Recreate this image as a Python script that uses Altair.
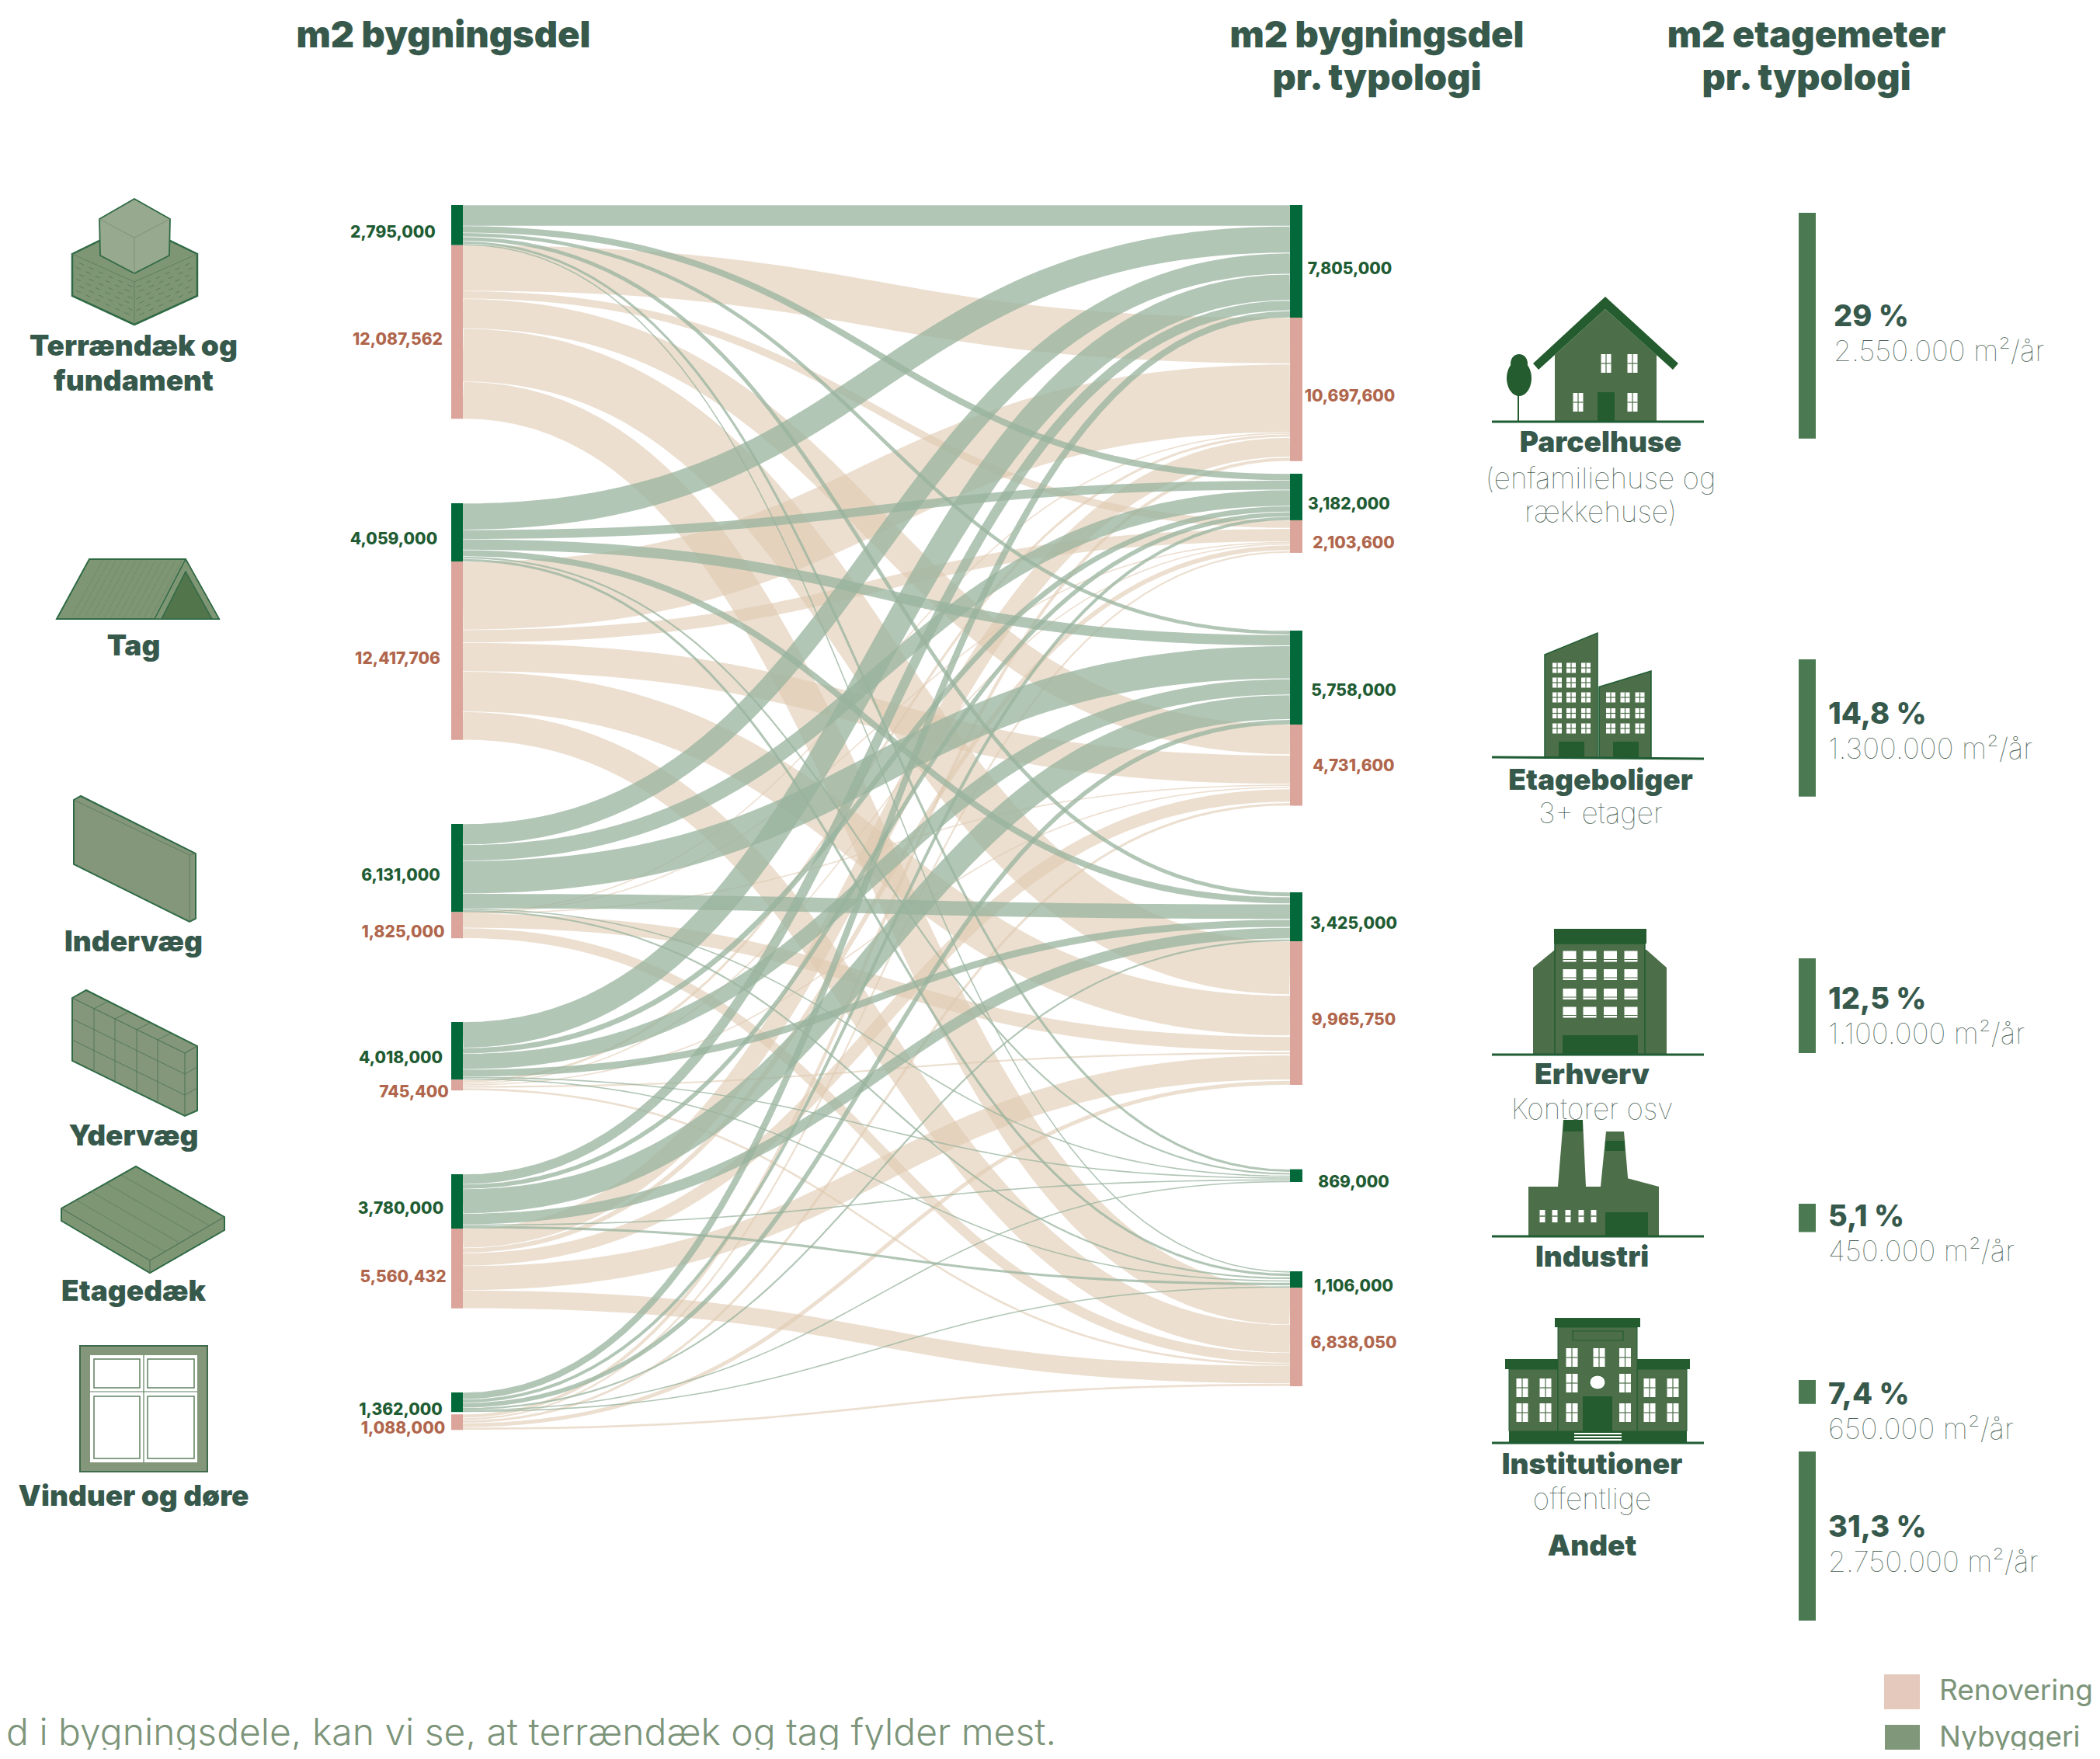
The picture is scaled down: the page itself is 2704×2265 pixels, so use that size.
import math
import altair as alt
import pandas as pd

# ---------------------------------------------------------------- data
SOURCES = ["Terrændæk og fundament", "Tag", "Indervæg", "Ydervæg", "Etagedæk", "Vinduer og døre"]
TARGETS = ["Parcelhuse", "Rækkehuse", "Etageboliger", "Erhverv", "Industri", "Institutioner"]

# flows, million m2 (rows = sources, columns = targets)
NEW_FLOWS = [
    [1.46, 0.47, 0.28, 0.295, 0.20, 0.09],
    [1.85, 0.65, 0.75, 0.46, 0.15, 0.20],
    [1.45, 1.12, 2.28, 1.04, 0.09, 0.15],
    [1.80, 0.40, 1.10, 0.52, 0.09, 0.11],
    [0.70, 0.33, 1.70, 0.77, 0.08, 0.20],
    [0.48, 0.25, 0.34, 0.15, 0.06, 0.09],
]
RENO_FLOWS = [
    [3.20, 0.55, 2.08, 3.70, 0.0, 2.60],
    [4.75, 0.90, 2.00, 2.80, 0.0, 1.97],
    [0.035, 0.035, 0.035, 1.00, 0.0, 0.72],
    [0.20, 0.10, 0.12, 0.15, 0.0, 0.175],
    [1.35, 0.35, 0.90, 1.70, 0.0, 1.26],
    [0.25, 0.15, 0.20, 0.30, 0.0, 0.18],
]
LEFT_NEW = [2.795, 4.059, 6.131, 4.018, 3.780, 1.362]
LEFT_RENO = [12.087562, 12.417706, 1.825, 0.7454, 5.560432, 1.088]
# node heights on the right as they are drawn, million m2
RIGHT_NEW = [7.84, 3.24, 6.54, 3.41, 0.886, 1.135]
RIGHT_RENO = [9.98, 2.27, 5.65, 10.0, 0.0, 6.86]

LEFT_NEW_LABELS = ["2,795,000", "4,059,000", "6,131,000", "4,018,000", "3,780,000", "1,362,000"]
LEFT_RENO_LABELS = ["12,087,562", "12,417,706", "1,825,000", "745,400", "5,560,432", "1,088,000"]
RIGHT_NEW_LABELS = ["7,805,000", "3,182,000", "5,758,000", "3,425,000", "869,000", "1,106,000"]
RIGHT_RENO_LABELS = ["10,697,600", "2,103,600", "4,731,600", "9,965,750", "6,838,050"]

PERCENTS = ["29 %", "14,8 %", "12,5 %", "5,1 %", "7,4 %", "31,3 %"]
AREAS = ["2.550.000 m²/år", "1.300.000 m²/år", "1.100.000 m²/år", "450.000 m²/år", "650.000 m²/år", "2.750.000 m²/år"]
# bar lengths as drawn, million m2 on the bar scale
BAR_DRAWN = [2.55, 1.55, 1.07, 0.32, 0.27, 1.91]

# ---------------------------------------------------------------- layout
W, H = 2704, 2265
VIEW_W, VIEW_H = W - 16, H - 20   # the page adds its margin and a line gap below the chart
PX = 18.5
LX0, LX1 = 581, 596
RX0, RX1 = 1661, 1677
LEFT_TOPS = [264, 648, 1061, 1316, 1512, 1793]
LEFT_GAP = [0, 0, 0, 0, 0, 3]
RIGHT_TOPS = [264, 610, 812, 1149, 1505.6, 1637]
BAR_TOPS = [274, 849, 1234, 1550, 1777, 1869]
BAR_PX = 114
BAR_X0, BAR_X1 = 2316, 2338

C_NEW_NODE, C_RENO_NODE = "#03693a", "#dba59b"
C_NEW_LINK, C_RENO_LINK = "#98b39d", "#dfcab1"
C_LABEL = "#36594c"
C_NUM_G, C_NUM_R = "#1f5c33", "#b0664c"
C_LIGHT = "#4a5f55"
C_LEG = "#7c9479"
FONT = "Inter"
TXT_DY = 2


def ends(values, top, height):
    """stacks bands in a node; returns (centre, width) for each band."""
    total = sum(values) * PX
    k = min(1.0, height / total) if total else 1.0
    live = [v for v in values if v > 0]
    gap = max(0.0, height - total) / max(1, len(live) - 1) if len(live) > 1 else 0
    out, y = [], top
    for v in values:
        w = v * PX * k
        out.append((y + w / 2, w))
        y += w + (gap if v > 0 else 0)
    return out


def links(flows, left_tops, left_h, right_tops, right_h, kind):
    n_s, n_t = len(flows), len(flows[0])
    left = [ends(flows[s], left_tops[s], left_h[s]) for s in range(n_s)]
    right = [ends([flows[s][t] for s in range(n_s)], right_tops[t], right_h[t]) for t in range(n_t)]
    rows = []
    for s in range(n_s):
        for t in range(n_t):
            if flows[s][t] <= 0:
                continue
            y0, w0 = left[s][t]
            y1, w1 = right[t][s]
            w = max(1.6, (w0 + w1) / 2 - 0.6)
            xa, xb = LX1, RX0
            xm = (xa + xb) / 2
            for i in range(61):
                u = i / 60
                a, b, c, d = (1 - u) ** 3, 3 * u * (1 - u) ** 2, 3 * u * u * (1 - u), u ** 3
                rows.append(dict(id=f"{kind}{s}-{t}", x=a * xa + b * xm + c * xm + d * xb,
                                 y=a * y0 + b * y0 + c * y1 + d * y1, i=i, w=w))
    return pd.DataFrame(rows)


L_NEW_H = [v * PX for v in LEFT_NEW]
L_RENO_H = [v * PX for v in LEFT_RENO]
R_NEW_H = [v * PX for v in RIGHT_NEW]
R_RENO_H = [v * PX for v in RIGHT_RENO]
L_RENO_TOPS = [t + h + g for t, h, g in zip(LEFT_TOPS, L_NEW_H, LEFT_GAP)]
R_RENO_TOPS = [t + h for t, h in zip(RIGHT_TOPS, R_NEW_H)]

df_reno = links(RENO_FLOWS, L_RENO_TOPS, L_RENO_H, R_RENO_TOPS, R_RENO_H, "r")
df_new = links(NEW_FLOWS, LEFT_TOPS, L_NEW_H, RIGHT_TOPS, R_NEW_H, "n")

nodes = []
for t, h, rt, rh in zip(LEFT_TOPS, L_NEW_H, L_RENO_TOPS, L_RENO_H):
    nodes.append(dict(x=LX0, x2=LX1, y=t, y2=t + h, c=C_NEW_NODE))
    nodes.append(dict(x=LX0, x2=LX1, y=rt, y2=rt + rh, c=C_RENO_NODE))
for t, h, rt, rh in zip(RIGHT_TOPS, R_NEW_H, R_RENO_TOPS, R_RENO_H):
    nodes.append(dict(x=RX0, x2=RX1, y=t, y2=t + h, c=C_NEW_NODE))
    if rh > 0:
        nodes.append(dict(x=RX0, x2=RX1, y=rt, y2=rt + rh, c=C_RENO_NODE))
for t, d in zip(BAR_TOPS, BAR_DRAWN):
    nodes.append(dict(x=BAR_X0, x2=BAR_X1, y=t, y2=t + d * BAR_PX, c="#4b7a52"))
nodes.append(dict(x=2426, x2=2472, y=2156, y2=2201, c="#e5c9bc"))
nodes.append(dict(x=2427, x2=2472, y=2221, y2=2265, c="#81977a"))
df_nodes = pd.DataFrame(nodes)

# ---------------------------------------------------------------- text
texts = []


def T(text, x, y, size, weight, color, align="center"):
    texts.append(dict(text=text, x=x, y=y + TXT_DY, size=size, weight=weight, color=color, align=align))


for txt, x, y in [("m2 bygningsdel", 571, 45), ("m2 bygningsdel", 1773, 45), ("pr. typologi", 1773, 100),
                  ("m2 etagemeter", 2326, 45), ("pr. typologi", 2326, 100)]:
    T(txt, x, y, 47, 900, C_LABEL)
for txt, y in [("Terrændæk og", 445), ("fundament", 490), ("Tag", 831), ("Indervæg", 1212),
               ("Ydervæg", 1462), ("Etagedæk", 1662), ("Vinduer og døre", 1926)]:
    T(txt, 172, y, 37, 900, C_LABEL)

for txt, x, y in zip(LEFT_NEW_LABELS, [506, 507, 516, 516, 516, 516], [298, 693, 1126, 1361, 1555, 1814]):
    T(txt, x, y, 21, 800, C_NUM_G)
for txt, x, y in zip(LEFT_RENO_LABELS, [512, 512, 519, 533, 519, 519], [436, 847, 1198.5, 1405, 1643, 1838]):
    T(txt, x, y, 21, 800, C_NUM_R)
for txt, x, y in zip(RIGHT_NEW_LABELS, [1738, 1737, 1743, 1743, 1743, 1743], [345, 648, 888, 1188, 1521, 1655]):
    T(txt, x, y, 21, 800, C_NUM_G)
for txt, x, y in zip(RIGHT_RENO_LABELS, [1738, 1743, 1743, 1743, 1743], [509, 698, 985, 1312, 1728]):
    T(txt, x, y, 21, 800, C_NUM_R)

for txt, x, y in [("Parcelhuse", 2061, 569), ("Etageboliger", 2061, 1004), ("Erhverv", 2050, 1383),
                  ("Industri", 2050, 1618), ("Institutioner", 2050, 1885), ("Andet", 2050, 1990)]:
    T(txt, x, y, 37, 900, C_LABEL)
for txt, x, y in [("(enfamiliehuse og", 2061, 616), ("rækkehuse)", 2061, 659), ("3+ etager", 2061, 1047),
                  ("Kontorer osv", 2050, 1428), ("offentlige", 2050, 1930)]:
    T(txt, x, y, 37, 100, C_LIGHT)
VAL_X = [2361, 2354, 2354, 2354, 2354, 2354]
PCT_Y = [407, 919, 1286, 1566, 1795, 1966]
for txt, x, y in zip(PERCENTS, VAL_X, PCT_Y):
    T(txt, x, y, 38, 800, C_LABEL, "left")
for txt, x, y in zip(AREAS, VAL_X, PCT_Y):
    T(txt, x, y + 45, 37, 100, C_LIGHT, "left")
T("Renovering", 2497, 2176, 37, 400, C_LEG, "left")
T("Nybyggeri", 2497, 2236, 37, 400, C_LEG, "left")
T("d i bygningsdele, kan vi se, at terrændæk og tag fylder mest.", 8, 2231, 48, 300, C_LEG, "left")
df_text = pd.DataFrame(texts)

# ---------------------------------------------------------------- icons (custom symbol paths)
S = 200.0
pieces = []
G_FILL, G_EDGE, G_LIGHT = "#7f9675", "#2f6a45", "#97a98e"
B_FILL, B_DARK, B_LINE = "#4c6e48", "#245c2f", "#1f5c33"


def poly(pts, fill="transparent", stroke="transparent", sw=0.0, closed=True):
    xs, ys = [p[0] for p in pts], [p[1] for p in pts]
    cx, cy = (min(xs) + max(xs)) / 2, (min(ys) + max(ys)) / 2
    d = "M" + "L".join(f"{(px - cx) / S:.5f},{(py - cy) / S:.5f}" for px, py in pts)
    if closed:
        d += "Z"
    pieces.append(dict(x=cx, y=cy, path=d, fill=fill, stroke=stroke, sw=sw))


def rect(x0, y0, x1, y1, **kw):
    poly([(x0, y0), (x1, y0), (x1, y1), (x0, y1)], **kw)


def line(a, b, stroke, sw):
    poly([a, b], stroke=stroke, sw=sw, closed=False)


def ellipse(cx, cy, rx, ry, **kw):
    poly([(cx + rx * math.cos(a * math.pi / 18), cy + ry * math.sin(a * math.pi / 18)) for a in range(36)], **kw)


# Terrændæk og fundament
poly([(93, 327), (128, 310), (219, 310), (254, 327), (254, 381), (173, 418), (93, 381)], fill=G_FILL, stroke=G_EDGE, sw=2.5)
line((93, 327), (173, 363), "#5f8060", 1)
line((173, 363), (254, 327), "#5f8060", 1)
line((173, 363), (173, 418), "#5f8060", 1)
for k in range(1, 7):
    for j in range(0, 6):
        xa = 98 + j * 12.5 + (k % 2) * 4
        ya = 327 + (xa - 93) * 0.45 + k * 7.5
        line((xa, ya), (xa + 6, ya + 2.7), "#55785a", 0.9)
        xb = 248 - j * 12.5 - (k % 2) * 4
        yb = 327 + (254 - xb) * 0.45 + k * 7.5
        line((xb, yb), (xb - 6, yb + 2.7), "#55785a", 0.9)
poly([(173, 256), (219, 282), (218, 329), (173, 352), (129, 329), (128, 282)], fill=G_LIGHT, stroke=G_EDGE, sw=1.8)
line((128, 282), (173, 306), "#7d9478", 1)
line((219, 282), (173, 306), "#7d9478", 1)
line((173, 306), (173, 352), "#7d9478", 1)

# Tag
poly([(73, 797), (115, 720), (239, 720), (282, 797)], fill=G_FILL, stroke=G_EDGE, sw=2)
for k in range(0, 13):
    xa = 92 + k * 8.5
    line((xa, 795), (xa + 40, 722), "#6b8663", 0.7)
poly([(199, 797), (239, 720), (282, 797)], fill=G_FILL, stroke=G_EDGE, sw=1.5)
poly([(239, 736), (208, 797), (273, 797)], fill="#53754c", stroke=G_EDGE, sw=1.5)

# Indervæg
poly([(95, 1030), (104, 1025), (252, 1099), (252, 1183), (244, 1187), (95, 1113)], fill="#84977a", stroke=G_EDGE, sw=2)
line((95, 1030), (244, 1101), "#5f8060", 1)
line((244, 1101), (252, 1099), "#5f8060", 1)
line((244, 1101), (244, 1187), "#5f8060", 1)

# Ydervæg
poly([(93, 1285), (111, 1275), (254, 1347), (254, 1430), (238, 1437), (93, 1366)], fill="#84977a", stroke=G_EDGE, sw=2)
line((93, 1285), (238, 1356), "#4f7557", 1.1)
line((238, 1356), (254, 1347), "#4f7557", 1.1)
line((238, 1356), (238, 1437), "#4f7557", 1.1)
for xa in (121, 148, 176, 203):
    ya = 1285 + (xa - 93) * 71 / 145
    line((xa, ya), (xa, ya + 81), "#4f7557", 0.9)
    line((xa, ya), (xa + 16, ya - 8), "#4f7557", 0.9)
for f in (27, 54):
    line((93, 1285 + f), (238, 1356 + f), "#4f7557", 0.9)
    line((238, 1356 + f), (254, 1347 + f), "#4f7557", 0.9)

# Etagedæk
poly([(79, 1556), (175, 1502), (289, 1567), (289, 1584), (193, 1639), (79, 1572)], fill="#7f9675", stroke=G_EDGE, sw=2)
line((79, 1556), (193, 1623), "#4f7557", 1.1)
line((193, 1623), (289, 1567), "#4f7557", 1.1)
line((193, 1623), (193, 1639), "#4f7557", 1.1)
for k in (1, 2, 3, 4):
    f = k / 5
    line((79 + 96 * f, 1556 - 54 * f), (193 + 96 * f, 1623 - 56 * f), "#5f8060", 0.9)

# Vinduer og døre
rect(103, 1733, 267, 1895, fill="#84977a", stroke="#3f6a4b", sw=2)
rect(116, 1745, 254, 1883, fill="white")
for x0, y0, x1, y1 in [(121, 1750, 180, 1787), (190, 1750, 250, 1787), (121, 1798, 180, 1878), (190, 1798, 250, 1878)]:
    rect(x0, y0, x1, y1, stroke="#5f8060", sw=1.5)
line((185, 1745), (185, 1883), "#5f8060", 1.2)
line((116, 1792), (254, 1792), "#5f8060", 1.2)


def pane(cx, cy, w, h):
    rect(cx - w / 2, cy - h / 2, cx + w / 2, cy + h / 2, fill="white")
    line((cx, cy - h / 2), (cx, cy + h / 2), B_FILL, 1.2)
    line((cx - w / 2, cy), (cx + w / 2, cy), B_FILL, 1.2)


# Parcelhuse
poly([(2002, 543), (2002, 457), (2067, 398), (2133, 457), (2133, 543)], fill=B_FILL)
poly([(2067, 382), (2161, 468), (2154, 476), (2067, 398), (1981, 476), (1974, 468)], fill=B_DARK)
rect(2057, 505, 2079, 543, fill=B_DARK)
for cx, cy in [(2068, 468), (2102, 468), (2032, 518), (2102, 518)]:
    pane(cx, cy, 13, 24)
line((1955, 505), (1955, 543), B_DARK, 2)
ellipse(1956, 487, 16, 23, fill=B_DARK)
ellipse(1956, 468, 11, 12, fill=B_DARK)
line((1921, 543), (2194, 543), B_LINE, 3)

# Etageboliger
poly([(1989, 843), (2057, 815), (2057, 976), (1989, 976)], fill=B_FILL, stroke=B_LINE, sw=1.5)
poly([(2059, 884.5), (2126, 864), (2126, 976), (2059, 976)], fill=B_FILL, stroke=B_LINE, sw=1.5)
rect(2007, 955, 2040, 976, fill=B_DARK)
rect(2077, 955, 2110, 976, fill=B_DARK)
for cy in (860, 879, 898, 918.5, 938):
    for cx in (2005, 2023, 2042):
        pane(cx, cy, 12, 13)
for cy in (898, 918.5, 938):
    for cx in (2074, 2092.5, 2111.5):
        pane(cx, cy, 12, 13)
line((1921, 975), (2194, 977), B_LINE, 3)

# Erhverv
poly([(2002, 1223), (1974, 1246), (1974, 1358), (2146, 1358), (2146, 1246), (2120, 1223)], fill=B_FILL)
rect(2002, 1215, 2118, 1358, fill=B_FILL, stroke=B_LINE, sw=1.5)
rect(2001, 1196, 2120, 1215, fill=B_DARK)
rect(2012, 1333, 2109, 1358, fill=B_DARK)
for cy in (1231.5, 1255, 1280, 1303.5):
    for cx in (2021, 2047, 2073.5, 2100):
        rect(cx - 8.5, cy - 7, cx + 8.5, cy + 7, fill="white")
        line((cx - 8.5, cy + 4), (cx + 8.5, cy + 4), B_FILL, 1)
line((1921, 1358), (2194, 1358), B_LINE, 3)

# Industri
poly([(2013, 1442), (2038, 1442), (2042, 1528), (2006, 1528)], fill=B_FILL)
rect(2013, 1442, 2038, 1457, fill=B_DARK)
poly([(2068, 1457), (2091, 1457), (2096, 1516), (2096, 1528), (2061, 1528)], fill=B_FILL)
rect(2067, 1469, 2092, 1482, fill=B_DARK)
poly([(1968, 1528), (2080, 1528), (2080, 1513), (2136, 1528), (2136, 1592), (1968, 1592)], fill=B_FILL)
rect(2067, 1561, 2122, 1592, fill=B_DARK)
for cx in (1986, 2002, 2019, 2036, 2052):
    rect(cx - 3.5, 1558, cx + 3.5, 1574, fill="white")
    line((cx - 3.5, 1566), (cx + 3.5, 1566), B_FILL, 1.5)
line((1921, 1592), (2194, 1592), B_LINE, 3)

# Institutioner
rect(1943, 1763, 2006, 1843, fill=B_FILL, stroke=B_LINE, sw=1)
rect(2108, 1763, 2172, 1843, fill=B_FILL, stroke=B_LINE, sw=1)
rect(2006, 1709, 2108, 1843, fill=B_FILL, stroke=B_LINE, sw=1)
rect(2002, 1697, 2112, 1709, fill=B_DARK)
rect(1938, 1750, 2006, 1763, fill=B_DARK)
rect(2108, 1750, 2176, 1763, fill=B_DARK)
rect(1943, 1843, 2172, 1858, fill=B_DARK)
rect(2038, 1798, 2076, 1843, fill=B_DARK)
rect(2025, 1714, 2090, 1726, stroke=B_DARK, sw=1.2)
for cx, cy in [(2024, 1748), (2059, 1748), (2092.5, 1748), (2024, 1781), (2092.5, 1781), (2024, 1819), (2092.5, 1819),
               (1960, 1787), (1990, 1787), (2124, 1787), (2154, 1787), (1960, 1819), (1990, 1819), (2124, 1819), (2154, 1819)]:
    pane(cx, cy, 15, 24)
ellipse(2057, 1780, 10, 9, fill="white", stroke=B_DARK, sw=1)
for yy in (1846, 1850, 1854):
    line((2027, yy), (2088, yy), "white", 2)
line((1921, 1858), (2194, 1858), B_LINE, 3)
df_icons = pd.DataFrame(pieces)

# ---------------------------------------------------------------- chart
X = alt.X("x:Q", scale=alt.Scale(domain=[8, 8 + VIEW_W], nice=False, zero=False), axis=None)
Y = alt.Y("y:Q", scale=alt.Scale(domain=[8 + VIEW_H, 8], nice=False, zero=False), axis=None)


def ribbon(df, color, opacity):
    return alt.Chart(df).mark_line(color=color, opacity=opacity, strokeCap="butt").encode(
        x=X, y=Y, detail="id:N", order="i:Q", size=alt.Size("w:Q", scale=None))


rects = alt.Chart(df_nodes).mark_rect(clip=True).encode(
    x=X, x2="x2:Q", y=Y, y2="y2:Q", color=alt.Color("c:N", scale=None))

text_layers = []
for (align, weight), part in df_text.groupby(["align", "weight"]):
    text_layers.append(
        alt.Chart(part).mark_text(font=FONT, fontWeight=int(weight), align=align, baseline="middle").encode(
            x=X, y=Y, text="text:N", size=alt.Size("size:Q", scale=None), color=alt.Color("color:N", scale=None)))

icons = alt.Chart(df_icons).mark_point(filled=True, opacity=1).encode(
    x=X, y=Y,
    shape=alt.Shape("path:N", scale=None),
    size=alt.value(4 * S * S),
    fill=alt.Fill("fill:N", scale=None),
    stroke=alt.Stroke("stroke:N", scale=None),
    strokeWidth=alt.StrokeWidth("sw:Q", scale=None),
)

chart = alt.layer(
    ribbon(df_reno, C_RENO_LINK, 0.6),
    ribbon(df_new, C_NEW_LINK, 0.75),
    rects, *text_layers, icons,
).properties(
    width=VIEW_W, height=VIEW_H, padding=0,
    autosize=alt.AutoSizeParams(type="none"),
    background="white",
).configure_view(stroke=None)

chart.save("out.html", embed_options={"renderer": "svg", "actions": False})
